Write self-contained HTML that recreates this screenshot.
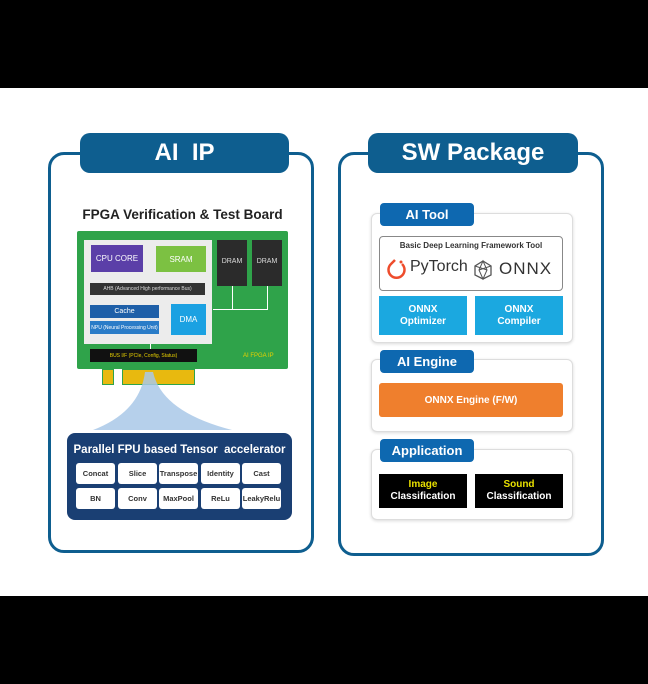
<!DOCTYPE html><html><head><style>
body{margin:0;width:648px;height:684px;background:#fff;position:relative;overflow:hidden;font-family:"Liberation Sans","DejaVu Sans",sans-serif}
div{position:absolute;box-sizing:border-box}
.c{display:flex;align-items:center;justify-content:center;text-align:center;font-weight:bold;white-space:nowrap}
.tab{background:#0e5e8f;color:#fff;border-radius:10px;font-size:24px}
.pan{border:3px solid #0e5e8f;border-radius:16px}
.cell{background:#fff;border-radius:3px;font-size:7.5px;color:#333}
.sec{border:1px solid #ddd;border-radius:6px;background:#fff;box-shadow:0 1px 3px rgba(0,0,0,.15)}
.st{background:#0e68b0;color:#fff;border-radius:4px;font-size:13px}
.bl{background:#1ba8e0;color:#fff;font-size:10px;line-height:12px}
.bk{background:#000;color:#fff;font-size:10px;line-height:12px}
.wl{background:#fff}
</style></head><body>
<div style="left:0;top:0;width:648px;height:88px;background:#000"></div>
<div style="left:0;top:596px;width:648px;height:88px;background:#000"></div>

<div class="pan" style="left:48px;top:152px;width:266px;height:401px"></div>
<div class="tab c" style="left:80px;top:133px;width:209px;height:40px">AI&nbsp;&nbsp;IP</div>
<div class="pan" style="left:338px;top:152px;width:266px;height:404px"></div>
<div class="tab c" style="left:368px;top:133px;width:210px;height:40px">SW Package</div>

<div class="c" style="left:70px;top:205px;width:225px;height:18px;font-size:13.5px;color:#222">FPGA Verification &amp; Test Board</div>
<div style="left:77px;top:231px;width:211px;height:138px;background:#2fa34a;border-radius:2px"></div>
<div style="left:84px;top:240px;width:128px;height:104px;background:#ececec"></div>
<div class="c" style="left:91px;top:245px;width:52px;height:27px;background:#5b3fa8;color:#fff;font-size:8px;font-weight:normal">CPU CORE</div>
<div class="c" style="left:156px;top:246px;width:50px;height:26px;background:#7cc142;color:#fff;font-size:8px;font-weight:normal">SRAM</div>
<div class="c" style="left:90px;top:283px;width:115px;height:12px;background:#333;color:#ddd;font-size:5px;font-weight:normal">AHB (Advanced High performance Bus)</div>
<div class="c" style="left:90px;top:305px;width:69px;height:13px;background:#1e5fa8;color:#fff;font-size:7px;font-weight:normal">Cache</div>
<div class="c" style="left:90px;top:321px;width:69px;height:13px;background:#2a7cc8;color:#fff;font-size:5px;font-weight:normal">NPU (Neural Processing Unit)</div>
<div class="c" style="left:171px;top:304px;width:35px;height:31px;background:#1ba1e2;color:#fff;font-size:8px;font-weight:normal">DMA</div>
<div class="c" style="left:217px;top:240px;width:30px;height:46px;background:#2b2b2b;color:#ddd;font-size:7px;font-weight:normal;align-items:flex-start;padding-top:18px">DRAM</div>
<div class="c" style="left:252px;top:240px;width:30px;height:46px;background:#2b2b2b;color:#ddd;font-size:7px;font-weight:normal;align-items:flex-start;padding-top:18px">DRAM</div>
<div class="wl" style="left:232px;top:286px;width:1px;height:24px"></div>
<div class="wl" style="left:267px;top:286px;width:1px;height:24px"></div>
<div class="wl" style="left:213px;top:309px;width:55px;height:1px"></div>
<div class="wl" style="left:150px;top:344px;width:1px;height:5px"></div>
<div class="c" style="left:90px;top:349px;width:107px;height:13px;background:#111;color:#e8d000;font-size:5px;font-weight:normal">BUS I/F (PCIe, Config, Status)</div>
<div style="left:243px;top:353px;font-size:6px;color:#e8d000">AI FPGA IP</div>
<div style="left:102px;top:369px;width:12px;height:16px;background:#e8b90f;border:1px solid #2fa34a"></div>
<div style="left:122px;top:369px;width:73px;height:16px;background:#e8b90f;border:1px solid #2fa34a"></div>
<svg style="position:absolute;left:0;top:0" width="648" height="684"><path d="M145 372 L153 372 Q162 412 232 430 L93 430 Q140 412 145 372Z" fill="#a9c8e8" opacity=".85"/></svg>

<div style="left:67px;top:433px;width:225px;height:87px;background:#1a3f73;border-radius:8px"></div>
<div class="c" style="left:67px;top:441px;width:225px;height:18px;color:#fff;font-size:11.5px">Parallel FPU based Tensor&nbsp; accelerator</div>
<div class="cell c" style="left:76px;top:463px;width:39px;height:21px">Concat</div>
<div class="cell c" style="left:118px;top:463px;width:39px;height:21px">Slice</div>
<div class="cell c" style="left:159px;top:463px;width:39px;height:21px">Transpose</div>
<div class="cell c" style="left:201px;top:463px;width:39px;height:21px">Identity</div>
<div class="cell c" style="left:242px;top:463px;width:39px;height:21px">Cast</div>
<div class="cell c" style="left:76px;top:488px;width:39px;height:21px">BN</div>
<div class="cell c" style="left:118px;top:488px;width:39px;height:21px">Conv</div>
<div class="cell c" style="left:159px;top:488px;width:39px;height:21px">MaxPool</div>
<div class="cell c" style="left:201px;top:488px;width:39px;height:21px">ReLu</div>
<div class="cell c" style="left:242px;top:488px;width:39px;height:21px">LeakyRelu</div>

<div class="sec" style="left:371px;top:213px;width:202px;height:130px"></div>
<div class="st c" style="left:380px;top:203px;width:94px;height:23px">AI Tool</div>
<div style="left:379px;top:236px;width:184px;height:55px;border:1px solid #888;border-radius:4px"></div>
<div class="c" style="left:379px;top:239px;width:184px;height:12px;font-size:8px;color:#333">Basic Deep Learning Framework Tool</div>
<svg style="position:absolute;left:386px;top:257px" width="24" height="24"><path d="M9 3 L5 7 A8 8 0 1 0 16 7" fill="none" stroke="#ee4c2c" stroke-width="2.5"/><circle cx="15" cy="5" r="1.5" fill="#ee4c2c"/></svg>
<div style="left:410px;top:258px;font-size:16px;color:#333">PyTorch</div>
<svg style="position:absolute;left:472px;top:259px" width="22" height="22"><polygon points="11,2 19,7 19,16 11,20 3,16 3,7" fill="none" stroke="#555" stroke-width="1.3"/><path d="M11 2 L7 11 L11 20 L15 11 Z M3 7 L15 11 M19 7 L7 11" fill="none" stroke="#555" stroke-width="1"/></svg>
<div style="left:499px;top:259px;font-size:17px;color:#333;letter-spacing:1px">ONNX</div>
<div class="bl c" style="left:379px;top:296px;width:88px;height:39px">ONNX<br>Optimizer</div>
<div class="bl c" style="left:475px;top:296px;width:88px;height:39px">ONNX<br>Compiler</div>

<div class="sec" style="left:371px;top:359px;width:202px;height:73px"></div>
<div class="st c" style="left:380px;top:350px;width:94px;height:23px">AI Engine</div>
<div class="c" style="left:379px;top:383px;width:184px;height:34px;background:#ef7f2d;color:#fff;font-size:10px;border-radius:3px">ONNX Engine (F/W)</div>

<div class="sec" style="left:371px;top:449px;width:202px;height:71px"></div>
<div class="st c" style="left:380px;top:439px;width:94px;height:23px">Application</div>
<div class="bk c" style="left:379px;top:474px;width:88px;height:34px"><span><span style="color:#e8e000">Image</span><br>Classification</span></div>
<div class="bk c" style="left:475px;top:474px;width:88px;height:34px"><span><span style="color:#e8e000">Sound</span><br>Classification</span></div>
</body></html>
